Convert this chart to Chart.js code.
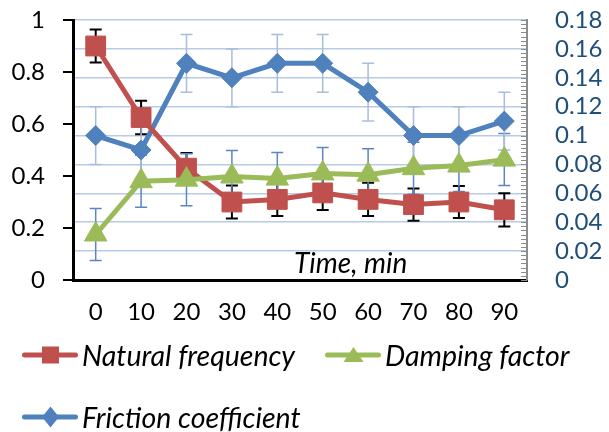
<!DOCTYPE html>
<html>
<head>
<meta charset="utf-8">
<script src="https://cdn.jsdelivr.net/npm/chart.js@4.4.1/dist/chart.umd.min.js"></script>
<style>
  html, body { margin: 0; padding: 0; background: #fff; overflow: hidden; }
  #wrap { position: relative; width: 609px; height: 432px; }
  #chart { display: block; }
  #legend {
    position: absolute; left: 22px; top: 324px; width: 587px;
    display: flex; flex-wrap: wrap; column-gap: 30px;
    font: italic 28.5px Lato, "Open Sans", sans-serif; color: #000;
  }
  #legend .item { display: flex; align-items: center; height: 62px; }
  #legend svg { margin-right: 4px; }
</style>
</head>
<body>
<div id="wrap">
  <canvas id="chart" width="609" height="432"></canvas>
  <div id="legend"></div>
</div>
<script>
// Valores
const times = ['0', '10', '20', '30', '40', '50', '60', '70', '80', '90'];
const naturalFreq = [0.90, 0.625, 0.43, 0.30, 0.31, 0.335, 0.31, 0.29, 0.30, 0.27];
const naturalFreqErr = [0.063, 0.064, 0.058, 0.063, 0.064, 0.066, 0.064, 0.062, 0.062, 0.064];
const dampingFactor = [0.175, 0.38, 0.386, 0.398, 0.39, 0.41, 0.405, 0.43, 0.44, 0.463];
const dampingErr = [0.1, 0.1, 0.1, 0.1, 0.1, 0.1, 0.1, 0.1, 0.1, 0.1];
const friction = [0.10, 0.09, 0.15, 0.14, 0.15, 0.15, 0.13, 0.10, 0.10, 0.11];
const frictionErr = [0.02, 0.02, 0.02, 0.02, 0.02, 0.02, 0.02, 0.02, 0.02, 0.02];
const leftTicks = { min: 0, max: 1, step: 0.2 };
const rightTicks = { min: 0, max: 0.18, step: 0.02 };

const RED = '#C0504D', GREEN = '#9BBB59', BLUE = '#4F81BD';
const FONT = 'Lato, "Open Sans", sans-serif';

// barras de erro desenhadas pelas escalas do próprio Chart.js
const errorBars = {
    id: 'errorBars',
    beforeDatasetsDraw(chart) {
        const ctx = chart.ctx;
        chart.data.datasets.forEach((ds, di) => {
            const meta = chart.getDatasetMeta(di);
            const scale = chart.scales[ds.yAxisID];
            ctx.save();
            ctx.strokeStyle = ds.errColor;
            ctx.lineWidth = ds.errWidth;
            meta.data.forEach((pt, i) => {
                const v = ds.data[i], e = ds.errors[i];
                const yt = scale.getPixelForValue(v + e);
                const yb = scale.getPixelForValue(v - e);
                ctx.beginPath();
                ctx.moveTo(pt.x, yt); ctx.lineTo(pt.x, yb);
                ctx.moveTo(pt.x - 6, yt); ctx.lineTo(pt.x + 6, yt);
                ctx.moveTo(pt.x - 6, yb); ctx.lineTo(pt.x + 6, yb);
                ctx.stroke();
            });
            ctx.restore();
        });
    }
};

// marcas dos eixos e título do eixo x dentro da área
const extras = {
    id: 'extras',
    afterDraw(chart) {
        const ctx = chart.ctx;
        const s = chart.scales.y2;
        const sy = chart.scales.y;
        const area = chart.chartArea;
        ctx.save();
        // marcas menores do eixo direito
        ctx.strokeStyle = '#8c8c8c';
        ctx.lineWidth = 1;
        const minor = rightTicks.step / 7;
        for (let k = 0; k <= 63; k++) {
            const y = Math.round(s.getPixelForValue(k * minor)) + 0.5;
            ctx.beginPath();
            ctx.moveTo(area.right - 6, y); ctx.lineTo(area.right, y);
            ctx.stroke();
        }
        // marcas principais do eixo esquerdo
        ctx.strokeStyle = '#000';
        ctx.lineWidth = 2;
        sy.ticks.forEach(t => {
            const y = sy.getPixelForValue(t.value);
            ctx.beginPath();
            ctx.moveTo(area.left - 10, y); ctx.lineTo(area.left, y);
            ctx.stroke();
        });
        ctx.fillStyle = '#000';
        ctx.font = 'italic 28px ' + FONT;
        ctx.textAlign = 'left';
        ctx.textBaseline = 'alphabetic';
        ctx.fillText('Time, min', 294, 273);
        ctx.restore();
    }
};

const ctx = document.getElementById('chart').getContext('2d');
const chart = new Chart(ctx, {
    type: 'line',
    data: {
        labels: times,
        datasets: [
            {
                label: 'Natural frequency',
                data: naturalFreq, errors: naturalFreqErr, errColor: '#000', errWidth: 2,
                yAxisID: 'y', borderColor: RED, backgroundColor: RED,
                borderWidth: 5, pointStyle: 'rect', pointRadius: 14, pointBorderWidth: 1,
                order: 2
            },
            {
                label: 'Damping factor',
                data: dampingFactor, errors: dampingErr, errColor: '#5A86C2', errWidth: 1.5,
                yAxisID: 'y', borderColor: GREEN, backgroundColor: GREEN,
                borderWidth: 5, pointStyle: 'triangle', pointRadius: 13, pointBorderWidth: 1,
                order: 1
            },
            {
                label: 'Friction coefficient',
                data: friction, errors: frictionErr, errColor: '#A9BDDC', errWidth: 1.5,
                yAxisID: 'y2', borderColor: BLUE, backgroundColor: BLUE,
                borderWidth: 5, pointStyle: 'rectRot', pointRadius: 10, pointBorderWidth: 1,
                order: 3
            }
        ]
    },
    options: {
        responsive: false,
        animation: false,
        layout: { padding: { top: 20, left: 0, right: 0, bottom: 102 } },
        plugins: {
            tooltip: { enabled: false },
            legend: { display: false }
        },
        scales: {
            x: {
                offset: true,
                grid: { display: false },
                border: { color: '#000', width: 3 },
                ticks: { color: '#000', padding: 10, font: { family: FONT, size: 24 }, maxRotation: 0, autoSkip: false },
                afterFit(scale) { scale.height = 50; }
            },
            y: {
                position: 'left',
                min: leftTicks.min, max: leftTicks.max,
                grid: { drawOnChartArea: false, tickColor: 'rgba(0,0,0,0)', tickLength: 26 },
                border: { color: '#000', width: 3 },
                ticks: {
                    stepSize: leftTicks.step, color: '#000', padding: 2, autoSkip: false,
                    font: { family: FONT, size: 24 },
                    callback: v => String(+v.toFixed(1))
                },
                afterFit(scale) { scale.width = 73; }
            },
            y2: {
                position: 'right',
                min: rightTicks.min, max: rightTicks.max,
                grid: { color: '#B7CBE6', lineWidth: 1.5, tickColor: 'rgba(0,0,0,0)', tickLength: 26 },
                border: { color: '#8c8c8c', width: 2 },
                ticks: {
                    stepSize: rightTicks.step, color: '#1F4E79', padding: 2, autoSkip: false,
                    font: { family: FONT, size: 24 },
                    callback: v => String(+v.toFixed(2))
                },
                afterFit(scale) { scale.width = 82; }
            }
        }
    },
    plugins: [errorBars, extras]
});

// legenda em HTML, gerada a partir dos datasets
const shapes = {
    rect: '<rect x="20" y="3.5" width="17" height="17"/>',
    triangle: '<polygon points="28.5,4 38.5,19 18.5,19"/>',
    rectRot: '<polygon points="28.5,1.5 37,12 28.5,22.5 20,12"/>'
};
const legendEl = document.getElementById('legend');
chart.data.datasets.forEach(ds => {
    const item = document.createElement('div');
    item.className = 'item';
    item.innerHTML =
        '<svg width="56" height="24" viewBox="0 0 56 24">' +
        '<line x1="2.5" y1="12" x2="53.5" y2="12" stroke="' + ds.borderColor + '" stroke-width="5" stroke-linecap="round"/>' +
        '<g fill="' + ds.borderColor + '">' + shapes[ds.pointStyle] + '</g></svg>' +
        '<span>' + ds.label + '</span>';
    legendEl.appendChild(item);
});
</script>
</body>
</html>
